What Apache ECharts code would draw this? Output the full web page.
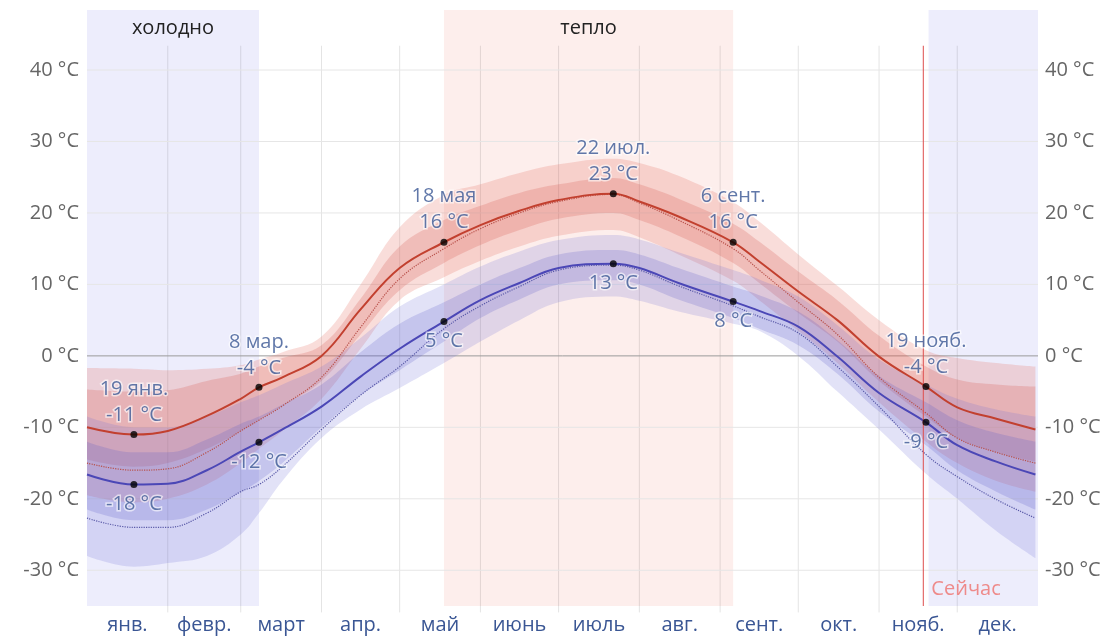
<!DOCTYPE html>
<html><head><meta charset="utf-8">
<script src="https://cdn.jsdelivr.net/npm/echarts@6/dist/echarts.min.js"></script>
<style>html,body{margin:0;padding:0;background:#fff;}#c{width:1114px;height:638px;}</style>
</head><body><div id="c"></div>
<script>
const days      = [0, 18, 31, 46, 59, 66, 75, 90, 105, 120, 137, 151, 166, 181, 202, 212, 227, 248, 258, 273, 288, 304, 322, 334, 349, 364];
const highMean  = [-10, -11, -10.5, -8.4, -6, -4.4, -3, 0, 6.5, 12.3, 15.9, 18.3, 20.3, 21.8, 22.7, 21.6, 19.5, 15.9, 13.2, 9, 5, -0.1, -4.3, -7.2, -8.8, -10.3];
const lowMean   = [-16.6, -18, -17.9, -16, -13.4, -12.1, -10.3, -7.1, -2.9, 1.0, 4.8, 7.8, 10.2, 12.3, 12.9, 12.3, 10.2, 7.6, 6.3, 4.1, -0.1, -5.2, -9.3, -12.5, -14.8, -16.6];
const highP90   = [-1.7, -1.8, -2, -1.8, -1.3, -0.5, 0.5, 2.7, 10, 18, 22.5, 24, 25.6, 26.8, 27.6, 27, 25.2, 21.5, 18.8, 14.2, 9.8, 5, 0.8, -0.3, -1, -1.5];
const highP75   = [-4.7, -5, -4.8, -3.5, -2.5, -1.5, -0.3, 1.5, 8, 15.3, 19, 21, 22.8, 24, 24.9, 24, 22, 18.5, 16, 11.8, 7.8, 2.8, -1.5, -3.3, -4, -4.3];
const highP25   = [-14.5, -15.5, -15, -13, -10.5, -9, -7, -3.5, 3, 9.2, 13, 15.5, 17.6, 19.2, 20, 19, 16.8, 13, 10.2, 6, 2, -3.5, -8.5, -11.5, -13.5, -14.8];
const highP10   = [-19.5, -20.5, -20, -18, -15, -13, -10.5, -6, 1, 7.8, 11, 13.3, 15.3, 16.8, 17.6, 16.6, 14.2, 10.5, 7.8, 3.5, -1, -6.5, -12, -15, -17.5, -19];
const lowP90    = [-8.5, -10, -10, -8.5, -6.5, -5.5, -4, -1.5, 2.5, 6.9, 10, 12.5, 14.6, 16.2, 16.9, 16.3, 14.5, 12, 10.7, 8.3, 4.3, -0.5, -4, -6, -7.5, -8.5];
const lowP75    = [-12, -13.5, -13.5, -11.7, -9.5, -8.5, -6.8, -4, 0.5, 4.5, 7.5, 10, 12.3, 14.2, 14.8, 14.2, 12.3, 9.7, 8.5, 6.2, 2.2, -2.8, -6.5, -9, -10.8, -12];
const lowP25    = [-21.5, -23, -23, -21.5, -19, -17.5, -15, -10, -5.5, -2, 2, 5.3, 7.9, 10, 10.6, 10, 7.9, 5.3, 3.8, 1.5, -2.5, -7.8, -12.5, -16, -19, -21.5];
const lowP10    = [-28, -29.5, -29, -28, -25, -22, -17.5, -11.5, -7.5, -4.5, -1, 2, 5, 7.5, 8.3, 7.7, 6.2, 4.5, 3.5, 0, -5, -10.3, -16.5, -20, -24.5, -28.3];
const highFeel  = [-15, -16, -15.8, -13.5, -10.5, -9, -7, -3, 4, 10.8, 15, 17.8, 20, 21.6, 22.6, 21.4, 19, 15, 12, 7.5, 3, -3, -8, -11.5, -13.5, -15];
const lowFeel   = [-22.7, -24, -24, -22, -19, -18, -15.5, -10.3, -5.5, -1.5, 3.8, 7, 9.7, 12, 12.7, 12, 9.8, 7, 5.5, 3.2, -1.5, -7.1, -13.8, -16.9, -20.1, -22.7];

const monthNames  = ['янв.','февр.','март','апр.','май','июнь','июль','авг.','сент.','окт.','нояб.','дек.'];
const monthStarts = [0, 31, 59, 90, 120, 151, 181, 212, 243, 273, 304, 334, 365];
const yTicks      = [-30, -20, -10, 0, 10, 20, 30, 40];
const keyDays       = [18, 66, 137, 202, 248, 322];
const keyDateLabels = ['19 янв.', '8 мар.', '18 мая', '22 июл.', '6 сент.', '19 нояб.'];
const seasonStart = [0, 323, 137];
const seasonEnd   = [66, 365, 248];
const seasonLabel = ['холодно', '', 'тепло'];
const seasonKind  = ['cold', 'cold', 'warm'];
const nowDay = 321;
const nowLabel = 'Сейчас';

const FONT = "'Open Sans', 'Noto Sans', sans-serif";
const DAY_MS = 86400000, T0 = Date.UTC(2023, 0, 1);
const monthMids = monthNames.map((m, i) => (monthStarts[i] + monthStarts[i + 1]) / 2);
const Y_MIN = -35, Y_MAX = 48.4, V_TOP = 43.4, V_BOT = -35.9;

function band(name, lower, upper, color) {
  return [
    { type: 'line', xAxisIndex: 1, stack: name, stackStrategy: 'all', data: days.map((d, i) => [T0 + d * DAY_MS, lower[i]]),
      smooth: 0.4, symbol: 'none', lineStyle: { opacity: 0 }, silent: true, z: 3 },
    { type: 'line', xAxisIndex: 1, stack: name, stackStrategy: 'all', data: days.map((d, i) => [T0 + d * DAY_MS, upper[i] - lower[i]]),
      smooth: 0.4, symbol: 'none', lineStyle: { opacity: 0 }, areaStyle: { color: color, opacity: 1 }, silent: true, z: 3 }
  ];
}
function line(data, color, width, type) {
  return { type: 'line', data: days.map((d, i) => [d, data[i]]), smooth: 0.4, symbol: 'none', silent: true, z: 5,
    lineStyle: { color: color, width: width, type: type } };
}
const labelStyle = { color: '#3a5694', fontSize: 20, lineHeight: 26, fontFamily: FONT,
  textBorderColor: 'rgba(255,255,255,0.75)', textBorderWidth: 3 };

const chart = echarts.init(document.getElementById('c'));
chart.setOption({
  animation: false,
  grid: { left: 87, right: 76, top: 10, bottom: 32 },
  xAxis: [
    { type: 'value', min: 0, max: 365, axisLine: { show: false }, axisTick: { show: false }, splitLine: { show: false },
      axisLabel: { customValues: monthMids, margin: 9, color: '#3a5694', fontSize: 20, fontFamily: FONT,
        formatter: v => { let b = 0; monthMids.forEach((m, i) => { if (Math.abs(m - v) < Math.abs(monthMids[b] - v)) b = i; }); return monthNames[b]; } } },
    { type: 'time', min: T0, max: T0 + 365 * DAY_MS, show: false }
  ],
  yAxis: [
    { type: 'value', min: Y_MIN, max: Y_MAX, position: 'left', axisLine: { show: false }, axisTick: { show: false }, splitLine: { show: false },
      axisLabel: { customValues: yTicks, margin: 8, color: '#666', fontSize: 20, fontFamily: FONT, formatter: v => v + ' °C' } },
    { type: 'value', min: Y_MIN, max: Y_MAX, position: 'right', axisLine: { show: false }, axisTick: { show: false }, splitLine: { show: false },
      axisLabel: { customValues: yTicks, margin: 7, color: '#666', fontSize: 20, fontFamily: FONT, formatter: v => v + ' °C' } }
  ],
  series: [
    { type: 'custom', silent: true, z: 1, data: seasonStart.map((s, i) => [s, seasonEnd[i], i]),
      renderItem: (params, api) => {
        const cs = params.coordSys; const i = api.value(2);
        const x0 = api.coord([api.value(0), 0])[0], x1 = api.coord([api.value(1), 0])[0];
        return { type: 'group', children: [
          { type: 'rect', shape: { x: x0, y: cs.y, width: x1 - x0, height: cs.height },
            style: { fill: seasonKind[i] === 'cold' ? '#ededfc' : '#fdeeec' } },
          { type: 'text', style: { text: seasonLabel[i], x: (x0 + x1) / 2, y: cs.y + 18, align: 'center', verticalAlign: 'middle',
            fill: '#222', font: '20px ' + FONT } }
        ] };
      } },
    { type: 'custom', silent: true, z: 2, clip: false, data: monthStarts.slice(1, -1).map(d => [d]),
      renderItem: (params, api) => {
        const a = api.coord([api.value(0), V_TOP]), b = api.coord([api.value(0), V_BOT]);
        return { type: 'line', shape: { x1: a[0], y1: a[1], x2: b[0], y2: b[1] }, style: { stroke: 'rgba(0,0,0,0.11)', lineWidth: 1 } };
      } },
    { type: 'custom', silent: true, z: 2, data: yTicks.map(v => [v]),
      renderItem: (params, api) => {
        const v = api.value(0); const a = api.coord([0, v]), b = api.coord([365, v]);
        return { type: 'line', shape: { x1: a[0], y1: a[1], x2: b[0], y2: b[1] },
          style: { stroke: v === 0 ? '#9a9a9a' : '#e6e6e6', lineWidth: 1 } };
      } },
    ...band('hOuter', highP10, highP90, 'rgba(228,112,100,0.24)'),
    ...band('hInner', highP25, highP75, 'rgba(215,88,78,0.24)'),
    ...band('lOuter', lowP10, lowP90, 'rgba(110,110,215,0.2)'),
    ...band('lInner', lowP25, lowP75, 'rgba(92,92,200,0.22)'),
    line(highFeel, '#b8504a', 1.2, 'dotted'),
    line(lowFeel, '#5a5aa8', 1.2, 'dotted'),
    line(highMean, '#c2402f', 2, 'solid'),
    line(lowMean, '#4b47b6', 2, 'solid'),
    { type: 'custom', silent: true, z: 6, data: [[nowDay]],
      renderItem: (params, api) => {
        const a = api.coord([api.value(0), V_TOP]), b = api.coord([api.value(0), Y_MIN]);
        const t = api.coord([api.value(0), -32.6]);
        return { type: 'group', children: [
          { type: 'line', shape: { x1: a[0], y1: a[1], x2: b[0], y2: b[1] }, style: { stroke: 'rgba(222,80,80,0.85)', lineWidth: 1.2 } },
          { type: 'text', style: { text: nowLabel, x: t[0] + 8, y: t[1], align: 'left', verticalAlign: 'middle', fill: '#ee8a8a', font: '20px ' + FONT } }
        ] };
      } },
    { type: 'scatter', z: 10, silent: true, symbolSize: 7, itemStyle: { color: '#000' },
      data: keyDays.map(d => [d, highMean[days.indexOf(d)]]),
      label: Object.assign({ show: true, position: 'top', distance: 3,
        formatter: p => keyDateLabels[p.dataIndex] + '\n' + Math.round(p.value[1]) + ' °C' }, labelStyle) },
    { type: 'scatter', z: 10, silent: true, symbolSize: 7, itemStyle: { color: '#000' },
      data: keyDays.map(d => [d, lowMean[days.indexOf(d)]]),
      label: Object.assign({ show: true, position: 'bottom', distance: 3,
        formatter: p => Math.round(p.value[1]) + ' °C' }, labelStyle) }
  ]
});
</script></body></html>
